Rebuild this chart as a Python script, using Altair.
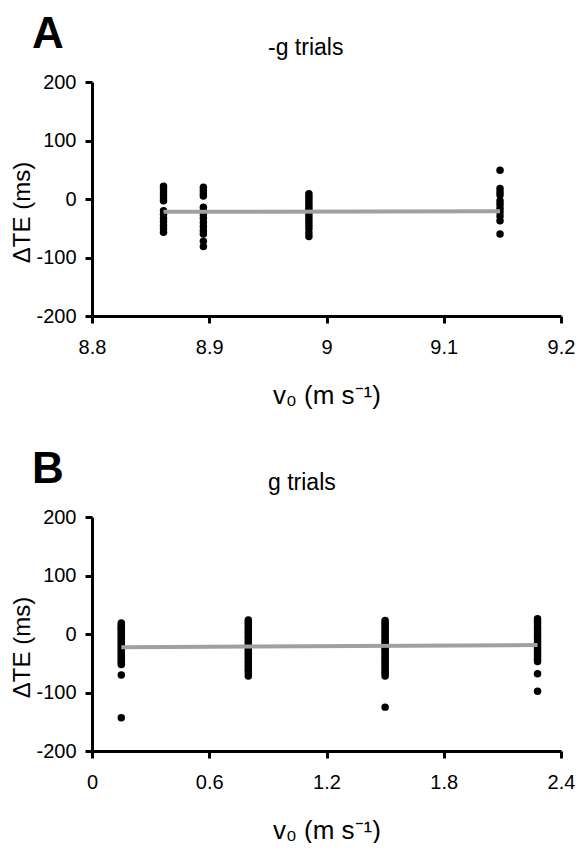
import altair as alt
import pandas as pd

# ---------- Panel A: -g trials ----------
v0_a = [8.861, 8.895, 8.985, 9.148]
dte_a = [
    [22, 17, 12, 7, 2, -3, -20, -26, -33, -39, -45, -51, -57],
    [20, 15, 10, 5, -14, -20, -27, -33, -40, -47, -54, -60, -72, -81],
    [9, 4, -1, -6, -11, -16, -21, -27, -33, -39, -45, -51, -58, -64],
    [49, 18, 12, 7, -3, -9, -16, -22, -29, -37, -60],
]
fit_a_x = [8.861, 9.148]
fit_a_y = [-22, -21]
ticks_a = [8.8, 8.9, 9.0, 9.1, 9.2]

# ---------- Panel B: g trials ----------
v0_b = [0.15, 0.80, 1.50, 2.28]
dte_b = [
    [19, 16, 13, 10, 8, 5, 2, -1, -4, -7, -10, -13, -16, -19, -22, -25, -28,
     -31, -34, -37, -40, -43, -46, -49, -52, -70, -143],
    [24, 20, 17, 13, 10, 6, 3, 0, -4, -7, -11, -14, -18, -21, -25, -28, -32,
     -35, -39, -42, -46, -49, -53, -56, -60, -63, -67, -72],
    [23, 19, 16, 12, 9, 5, 2, -2, -5, -9, -12, -16, -19, -23, -26, -30, -33,
     -37, -40, -44, -47, -51, -54, -58, -61, -65, -68, -72, -125],
    [26, 22, 18, 13, 9, 5, 1, -3, -7, -11, -15, -19, -23, -27, -31, -35, -39,
     -43, -47, -68, -98],
]
fit_b_x = [0.15, 2.28]
fit_b_y = [-22.5, -19]
ticks_b = [0, 0.6, 1.2, 1.8, 2.4]

y_ticks = [-200, -100, 0, 100, 200]

FONT = "Liberation Sans"
W, H = 469, 234


def panel(letter, title, v0s, dtes, fx, fy, xticks):
    pts = pd.DataFrame(
        [{"v0": v, "dte": d} for v, col in zip(v0s, dtes) for d in col]
    )
    fit = pd.DataFrame({"v0": fx, "dte": fy})
    xs = alt.Scale(domain=[xticks[0], xticks[-1]], nice=False, zero=False)
    ys = alt.Scale(domain=[-200, 200], nice=False)
    xax = alt.Axis(values=xticks, format=".1~f", title="v\u2080 (m s\u207b\u00b9)",
                   labelFlush=False, labelPadding=14, titlePadding=25,
                   titleFontSize=26)
    yax = alt.Axis(values=y_ticks, labelExpr="'' + datum.value",
                   labelPadding=9, title="\u0394TE (ms)", titlePadding=1,
                   titleFontSize=24, titleY=H / 2 + 13)

    dots = alt.Chart(pts).mark_circle(size=56, color="black", opacity=1).encode(
        x=alt.X("v0:Q", scale=xs, axis=xax),
        y=alt.Y("dte:Q", scale=ys, axis=yax),
    )
    line = alt.Chart(fit).mark_line(color="#a0a0a0", strokeWidth=4).encode(
        x=alt.X("v0:Q", scale=xs),
        y=alt.Y("dte:Q", scale=ys),
    )
    lab = alt.Chart(pd.DataFrame({"t": [letter]})).mark_text(
        font=FONT, fontSize=44, fontWeight="bold", align="left",
        baseline="alphabetic", color="black",
    ).encode(x=alt.value(-60), y=alt.value(-34), text="t:N")
    ttl = alt.Chart(pd.DataFrame({"t": [title]})).mark_text(
        font=FONT, fontSize=23, align="left", baseline="alphabetic",
        color="black",
    ).encode(x=alt.value(176), y=alt.value(-27), text="t:N")
    return alt.layer(dots, line, lab, ttl).properties(width=W, height=H)


a = panel("A", "-g trials", v0_a, dte_a, fit_a_x, fit_a_y, ticks_a)
b = panel("B", "g trials", v0_b, dte_b, fit_b_x, fit_b_y, ticks_b)

chart = alt.vconcat(a, b, spacing=40).properties(
    padding={"left": 2, "top": 5, "right": 0, "bottom": 0}
).configure_axis(
    grid=False, domainColor="black", domainWidth=3, tickColor="black",
    tickWidth=3, tickSize=7, labelFont=FONT, labelFontSize=20,
    labelColor="black", titleFont=FONT,
    titleFontWeight="normal", titleColor="black",
).configure_view(stroke=None)

chart.save("out.html", embed_options={"renderer": "svg", "actions": False})
